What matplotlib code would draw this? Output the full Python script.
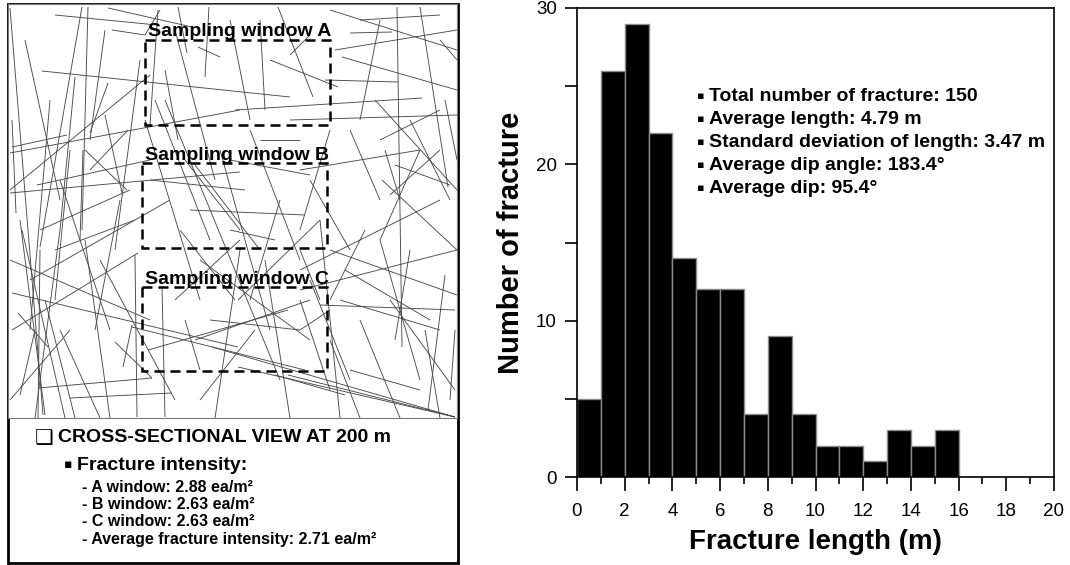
import numpy as np
import matplotlib.pyplot as plt
from matplotlib.collections import LineCollection
from matplotlib.patches import Rectangle
from matplotlib.ticker import MultipleLocator

plt.rcParams['font.family'] = ['Liberation Sans', 'DejaVu Sans']

# histogram of fracture length, 1 m bins
bin_left = [0, 1, 2, 3, 4, 5, 6, 7, 8, 9, 10, 11, 12, 13, 14, 15]
counts = [5, 26, 29, 22, 14, 12, 12, 4, 9, 4, 2, 2, 1, 3, 2, 3]

stats_text = ["Total number of fracture: 150",
              "Average length: 4.79 m",
              "Standard deviation of length: 3.47 m",
              "Average dip angle: 183.4\u00b0",
              "Average dip: 95.4\u00b0"]

section_title = "CROSS-SECTIONAL VIEW AT 200 m"
intensity_head = "Fracture intensity:"
intensity_text = ["- A window: 2.88 ea/m\u00b2",
                  "- B window: 2.63 ea/m\u00b2",
                  "- C window: 2.63 ea/m\u00b2",
                  "- Average fracture intensity: 2.71 ea/m\u00b2"]

# fracture traces (picture pixels, y pointing down)
frac = [
    (10, 8, 43, 415), (82, 7, 40, 247), (88, 7, 82, 230), (105, 30, 90, 140),
    (75, 77, 60, 230), (108, 83, 90, 133), (105, 115, 122, 193), (12, 120, 16, 213),
    (20, 220, 45, 415), (22, 230, 65, 418), (40, 250, 38, 418), (45, 300, 75, 418),
    (50, 100, 30, 330), (60, 230, 35, 418), (83, 150, 80, 240), (85, 240, 110, 418),
    (70, 150, 55, 300), (135, 255, 137, 417), (162, 287, 165, 417), (158, 10, 150, 125),
    (55, 15, 157, 25), (108, 8, 192, 27), (112, 30, 145, 35), (42, 71, 290, 97),
    (12, 147, 67, 135), (10, 153, 240, 110), (10, 190, 150, 75), (37, 185, 150, 160),
    (10, 193, 240, 172), (85, 150, 127, 190), (128, 130, 90, 170), (12, 293, 238, 347),
    (12, 330, 138, 253), (18, 313, 48, 347), (38, 388, 152, 378), (70, 398, 172, 393),
    (115, 342, 152, 378), (123, 367, 132, 325), (132, 327, 305, 370), (148, 350, 288, 310),
    (40, 230, 130, 190), (55, 250, 135, 220), (10, 260, 150, 320), (30, 280, 170, 200),
    (10, 400, 70, 330), (20, 395, 35, 330), (100, 260, 175, 400), (60, 330, 100, 418),
    (165, 70, 178, 140), (178, 7, 187, 53), (209, 7, 205, 77), (198, 47, 220, 57),
    (160, 10, 145, 35), (165, 100, 280, 380), (175, 30, 215, 180), (145, 120, 200, 300),
    (155, 100, 210, 240), (185, 160, 240, 230), (150, 180, 245, 190), (190, 210, 305, 215),
    (195, 165, 260, 250), (180, 230, 235, 300), (220, 150, 270, 330), (260, 20, 265, 110),
    (250, 130, 300, 260), (200, 260, 310, 340), (185, 320, 200, 370), (175, 300, 240, 240),
    (195, 340, 310, 300), (200, 400, 255, 330), (238, 300, 320, 220), (270, 60, 338, 87),
    (278, 7, 313, 97), (290, 55, 310, 35), (300, 250, 320, 300), (310, 180, 350, 250),
    (300, 330, 330, 310), (300, 170, 420, 150), (230, 160, 310, 175), (320, 220, 340, 418),
    (350, 33, 392, 32), (397, 7, 402, 347), (420, 7, 448, 187), (335, 50, 457, 30),
    (342, 57, 457, 90), (325, 80, 398, 82), (235, 110, 422, 98), (290, 120, 457, 115),
    (360, 20, 440, 15), (330, 10, 457, 50), (380, 20, 360, 120), (350, 130, 380, 200),
    (380, 140, 440, 110), (385, 150, 400, 200), (410, 120, 450, 200), (395, 165, 450, 185),
    (375, 100, 457, 190), (390, 195, 440, 150), (420, 150, 380, 240), (457, 250, 382, 180),
    (300, 270, 440, 200), (345, 270, 430, 320), (330, 250, 457, 295), (300, 290, 457, 250),
    (320, 305, 455, 310), (340, 300, 440, 330), (380, 240, 420, 380), (360, 320, 400, 418),
    (390, 300, 455, 390), (445, 275, 428, 410), (455, 330, 450, 400), (310, 280, 350, 380),
    (300, 300, 330, 390), (350, 370, 420, 390), (330, 340, 360, 418), (238, 367, 455, 417),
    (288, 375, 455, 417), (212, 347, 455, 417), (275, 375, 345, 395), (210, 320, 300, 330),
    (230, 230, 275, 240), (260, 140, 300, 140), (445, 100, 457, 160), (440, 40, 457, 60),
    (25, 40, 60, 200), (120, 200, 95, 330), (140, 60, 115, 250), (60, 180, 110, 330),
    (230, 20, 250, 120), (240, 250, 215, 418), (265, 260, 290, 418), (280, 200, 250, 300),
    (330, 130, 300, 230), (365, 230, 330, 300), (410, 250, 395, 340), (425, 330, 440, 418),
]
frac_x0 = [f[0] for f in frac]
frac_y0 = [f[1] for f in frac]
frac_x1 = [f[2] for f in frac]
frac_y1 = [f[3] for f in frac]

# sampling windows (picture pixels)
win_names = ["Sampling window A", "Sampling window B", "Sampling window C"]
win_x0 = [145, 142, 142]
win_x1 = [330, 327, 327]
win_y0 = [40, 163, 287]
win_y1 = [125, 248, 371]

fig = plt.figure(figsize=(10.7, 5.65), dpi=100)

# background axes in pixel units for the left panel frame and its text
bg = fig.add_axes([0, 0, 1, 1])
bg.set_xlim(0, 1070)
bg.set_ylim(565, 0)
bg.axis('off')
bg.add_patch(Rectangle((7.5, 3.5), 450, 559, fill=False, lw=2, ec='black'))

bg.text(35, 438, "\u2751", fontsize=15, fontweight='bold', va='center', ha='left',
        family=['DejaVu Sans'])
bg.text(58, 437, section_title, fontsize=14, fontweight='bold', va='center', ha='left')
bg.text(64, 465, "\u25aa", fontsize=9, va='center', ha='left', family=['DejaVu Sans'])
bg.text(77, 465, intensity_head, fontsize=14, fontweight='bold', va='center', ha='left')
for i, s in enumerate(intensity_text):
    bg.text(82, 487 + i * 17.5, s, fontsize=11.5, fontweight='bold', va='center', ha='left')

# fracture cross-section
ax0 = fig.add_axes([8 / 1070, (565 - 418) / 565, 449 / 1070, 414 / 565])
ax0.set_xlim(8, 457)
ax0.set_ylim(418, 4)
ax0.set_xticks([])
ax0.set_yticks([])
for sp in ax0.spines.values():
    sp.set_color('#777777')
    sp.set_linewidth(0.8)
segs = [[(a, b), (c, d)] for a, b, c, d in zip(frac_x0, frac_y0, frac_x1, frac_y1)]
ax0.add_collection(LineCollection(segs, colors='#4a4a4a', linewidths=0.65))

for name, xa, xb, ya, yb in zip(win_names, win_x0, win_x1, win_y0, win_y1):
    ax0.add_patch(Rectangle((xa, ya), xb - xa, yb - ya, fill=False, ec='black',
                            lw=1.8, ls=(0, (4, 2.4)), zorder=3))
    ax0.text(xa + 3, ya - 8, name, fontsize=14, fontweight='bold', va='center',
             ha='left', zorder=4)

# histogram
ax = fig.add_axes([577 / 1070, 88 / 565, 477 / 1070, 469 / 565])
ax.bar(bin_left, counts, width=1, align='edge', color='black', edgecolor='#8a8a8a',
       linewidth=1)
ax.set_xlim(0, 20)
ax.set_ylim(0, 30)
ax.xaxis.set_major_locator(MultipleLocator(2))
ax.xaxis.set_minor_locator(MultipleLocator(1))
ax.yaxis.set_major_locator(MultipleLocator(10))
ax.yaxis.set_minor_locator(MultipleLocator(5))
ax.tick_params(axis='x', which='major', length=10, width=1.2, pad=9, labelsize=13.5)
ax.tick_params(axis='x', which='minor', length=5, width=1.2)
ax.tick_params(axis='y', which='both', length=8.5, width=1.2, pad=6, labelsize=13.5)
for sp in ax.spines.values():
    sp.set_linewidth(1.2)
ax.set_xlabel("Fracture length (m)", fontsize=20, fontweight='bold', labelpad=6)
ax.set_ylabel("Number of fracture", fontsize=21, fontweight='bold', labelpad=8)

for i, s in enumerate(stats_text):
    ax.text(0.251, 0.812 - i * 0.049, "\u25aa", transform=ax.transAxes, fontsize=8,
            va='center', ha='left', family=['DejaVu Sans'])
    ax.text(0.276, 0.812 - i * 0.049, s, transform=ax.transAxes, fontsize=14,
            fontweight='bold', va='center', ha='left')

fig.savefig("out.png", dpi=100)
